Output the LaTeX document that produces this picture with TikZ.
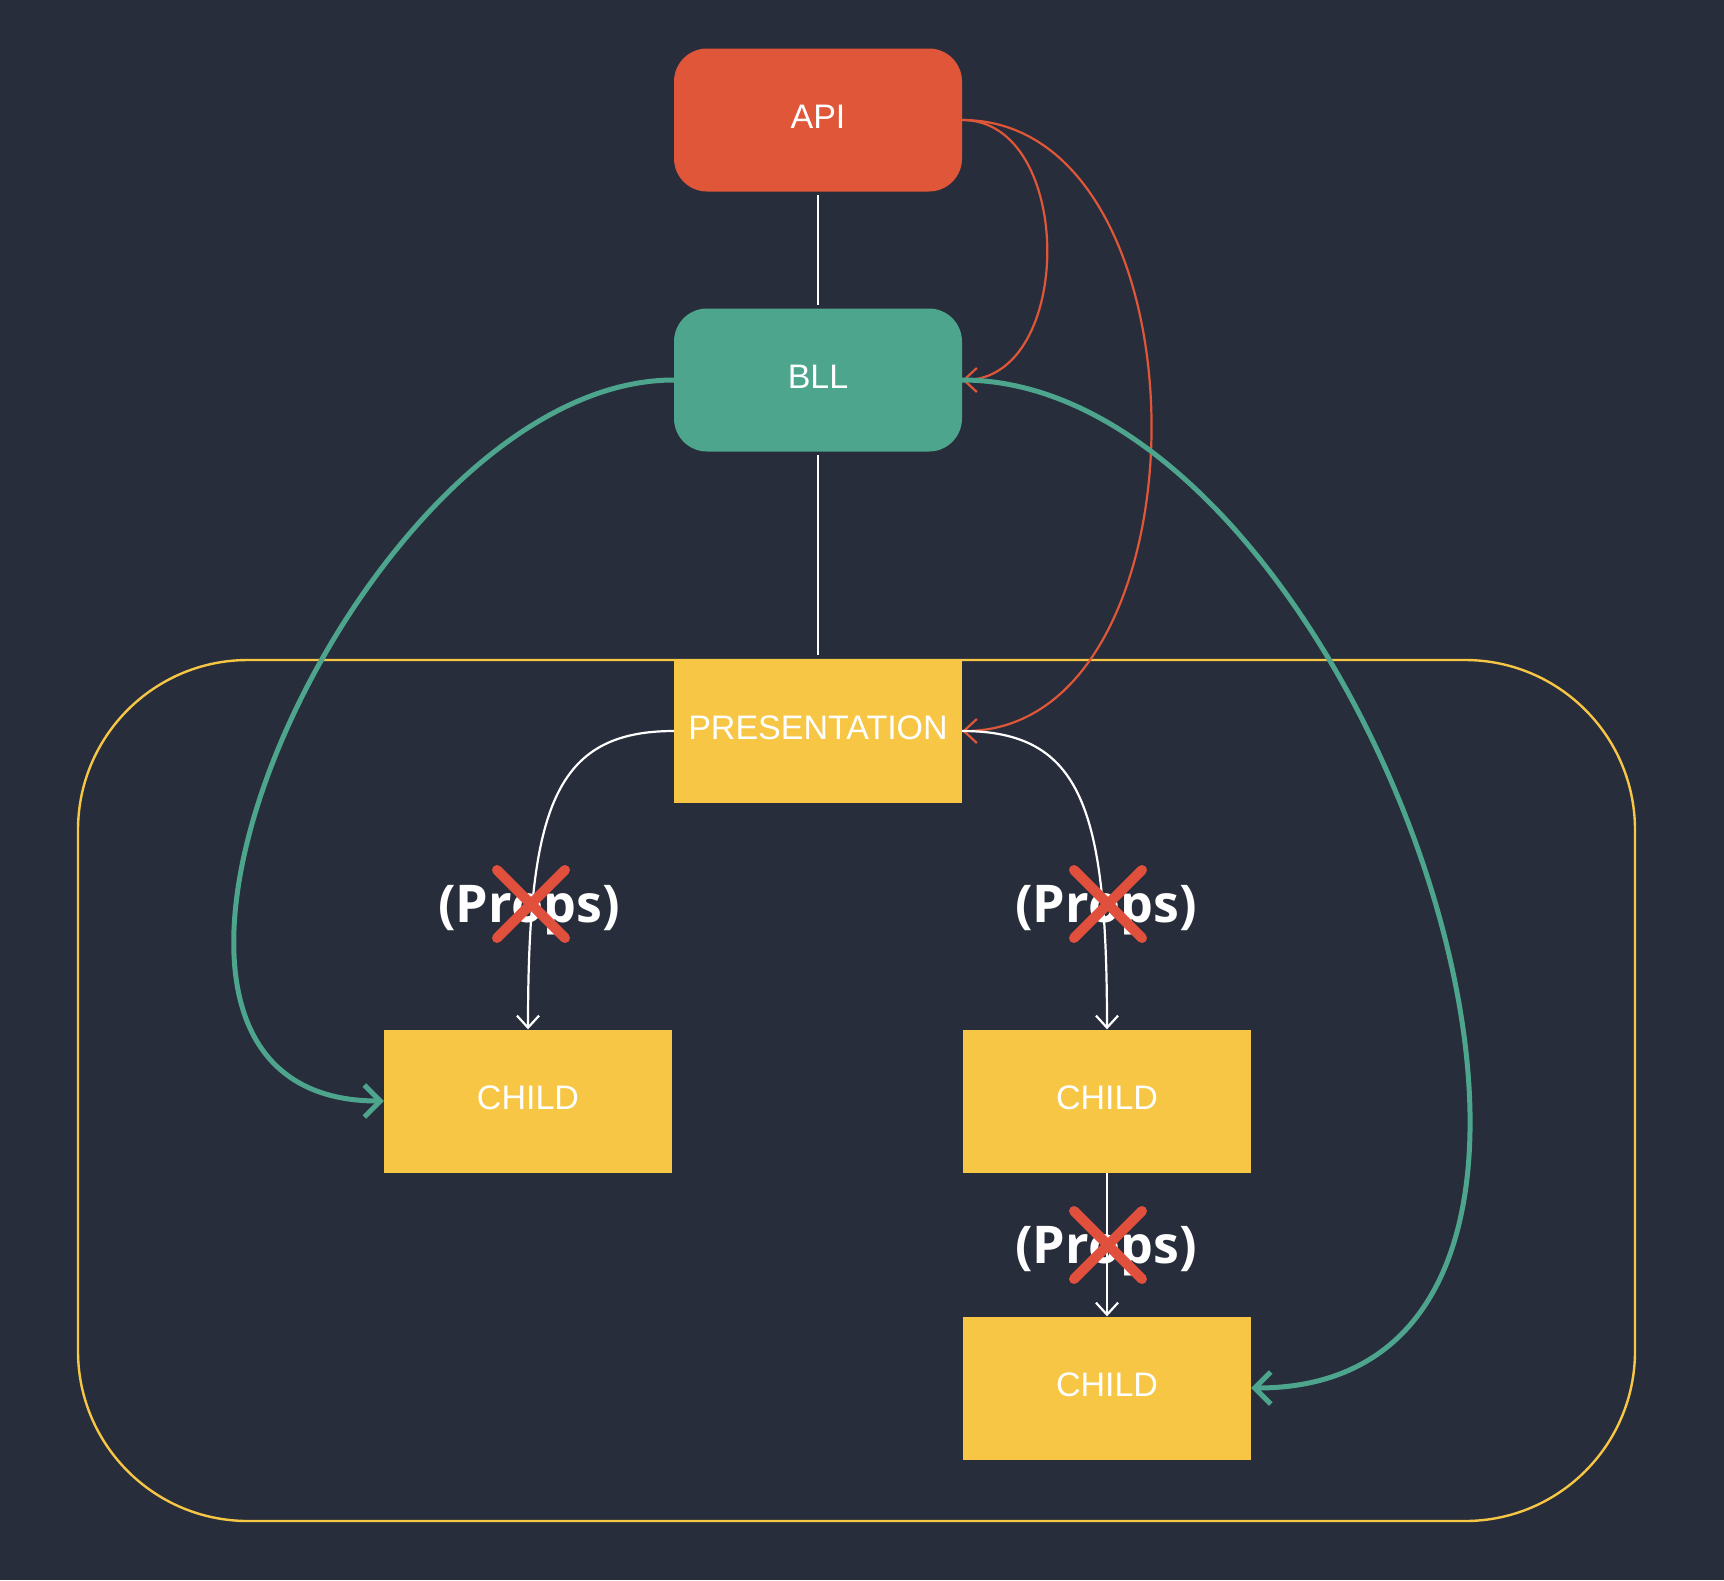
\documentclass[tikz,border=0pt]{standalone}
\usepackage{fontspec}
\setmainfont{Liberation Sans}
\newfontfamily\propsfont{Open Sans}
\usetikzlibrary{arrows.meta,calc}
\definecolor{bgc}{HTML}{272D3B}
\definecolor{apic}{HTML}{E05638}
\definecolor{bllc}{HTML}{4CA58C}
\definecolor{yelc}{HTML}{F6C644}
\definecolor{xc}{HTML}{E0503D}
\tikzset{
  box/.style={minimum width=288pt, minimum height=143pt, inner sep=0pt, text=white, text depth=6pt, font=\fontsize{34}{40}\selectfont},
  roundbox/.style={box, rounded corners=33pt},
  apibox/.style={roundbox, fill=apic},
  bllbox/.style={roundbox, fill=bllc},
  yelbox/.style={box, fill=yelc},
  plain/.style={draw=white, line width=2.2pt},
  whitearrow/.style={plain, -{Straight Barb[length=12pt,width=22pt,line width=2.2pt]}},
  redarrow/.style={draw=apic, line width=2.2pt, -{Straight Barb[length=13pt,width=24pt,line width=2.2pt]}},
  greenarrow/.style={draw=bllc, line width=5pt, -{Straight Barb[length=16pt,width=32pt,line width=5pt]}},
  container/.style={draw=yelc, line width=2.4pt, rounded corners=170pt},
  props/.style={text=white, inner sep=0pt, anchor=base, font=\propsfont\bfseries\fontsize{52}{60}\selectfont},
  xmark/.style={draw=xc, line width=10pt, line cap=round}
}
\begin{document}
\begin{tikzpicture}[x=1pt,y=-1pt]
\fill[bgc] (0,0) rectangle (1724,1580);
\useasboundingbox (0,0) rectangle (1724,1580);

% container
\draw[container] (78,660) rectangle (1635,1521);

% nodes
\node[apibox] (api) at (818,120) {API};
\node[bllbox] (bll) at (818,380) {BLL};
\node[yelbox] (pres) at (818,731) {PRESENTATION};
\node[yelbox] (c1) at (528,1101) {CHILD};
\node[yelbox] (c2) at (1107,1101) {CHILD};
\node[yelbox] (c3) at (1107,1388) {CHILD};

% straight connectors
\draw[plain, shorten <=3pt, shorten >=3pt] (api.south) -- (bll.north);
\draw[plain, shorten <=3pt, shorten >=4pt] (bll.south) -- (pres.north);

% red curves
\draw[redarrow] (api.east) .. controls ($(api.east)+(113,0)$) and ($(bll.east)+(113,0)$) .. (bll.east);
\draw[redarrow] (api.east) .. controls ($(api.east)+(252,0)$) and ($(pres.east)+(252,0)$) .. (pres.east);

% green curves
\draw[greenarrow] (bll.west) .. controls ($(bll.west)+(-314,0)$) and ($(c1.west)+(-343,0)$) .. (c1.west);
\draw[greenarrow] (bll.east) .. controls ($(bll.east)+(404,0)$) and ($(c3.east)+(455,0)$) .. (c3.east);

% white curves
\draw[whitearrow] (pres.west) .. controls ($(pres.west)+(-120,0)$) and ($(c1.north)+(0,-220)$) .. (c1.north);
\draw[whitearrow] (pres.east) .. controls ($(pres.east)+(120,0)$) and ($(c2.north)+(0,-220)$) .. (c2.north);
\draw[whitearrow] (c2.south) -- (c3.north);

% props labels
\node[props] (p1) at (529,922) {(Props)};
\node[props] (p2) at (1106,922) {(Props)};
\node[props] (p3) at (1106,1263) {(Props)};

% crosses
\coordinate (x1) at (531,904);
\coordinate (x2) at (1108,904);
\coordinate (x3) at (1108,1245);
\foreach \c in {x1,x2,x3}{
  \draw[xmark] (\c) ++(-34,-34) -- ++(68,68);
  \draw[xmark] (\c) ++(34,-34) -- ++(-68,68);
}
\end{tikzpicture}
\end{document}
